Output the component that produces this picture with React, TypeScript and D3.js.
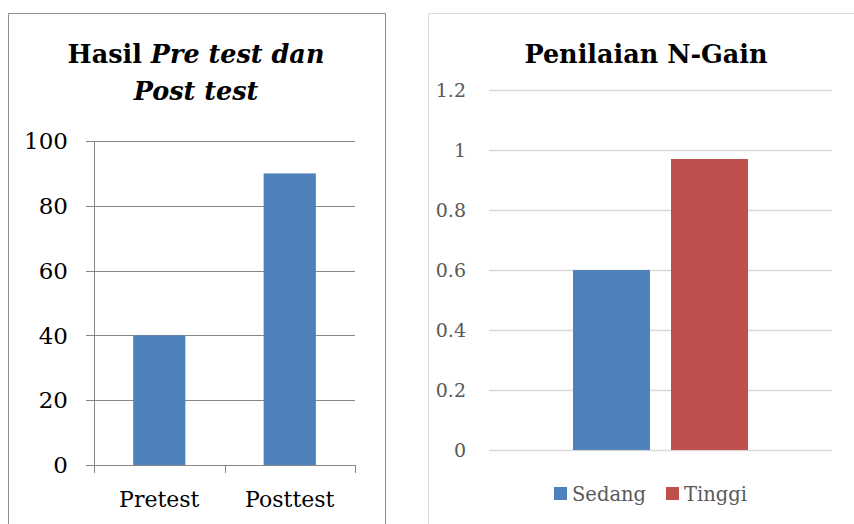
import React from "react";
import * as d3 from "d3";

const leftTitle1 = ["Hasil ", "Pre test dan"];
const leftTitle2 = "Post test";
const leftCategories = ["Pretest", "Posttest"];
const leftValues = [40, 90];
const leftTicks = [0, 20, 40, 60, 80, 100];

const rightTitle = "Penilaian N-Gain";
const rightGroups = ["N-Gain"];
const rightSeries = ["Sedang", "Tinggi"];
const rightValues = [0.6, 0.97];
const rightTicks = [0, 0.2, 0.4, 0.6, 0.8, 1, 1.2];
const rightColors = ["#4F81BD", "#C0504D"];

const FONT = "'DejaVu Serif', serif";

export default function App() {
  // Left chart
  const ly = d3.scaleLinear().domain([0, 100]).range([465, 141]);
  const lx = d3.scaleBand<string>().domain(leftCategories).range([94, 355]).paddingInner(0.6).paddingOuter(0.3);
  const lStep = lx.step();
  const lTickXs = [94, ...leftCategories.map((c) => (lx(c) as number) - lx.paddingOuter() * lStep + lStep)];

  // Right chart
  const ry = d3.scaleLinear().domain([0, 1.2]).range([450, 90]);
  const rx0 = d3.scaleBand<string>().domain(rightGroups).range([489, 832]).paddingInner(0).paddingOuter(0.48);
  const rx1 = d3.scaleBand<string>().domain(rightSeries).range([0, rx0.bandwidth()]).paddingInner(0.214).paddingOuter(0);

  return (
    <svg width={854} height={524} style={{ position: "absolute", left: 0, top: 0, background: "#fff" }} fontFamily={FONT}>
      <rect x={0} y={0} width={854} height={524} fill="#fff" />
      {/* Left chart border */}
      <path d="M8.5,530 V13.5 H385.5 V530" fill="none" stroke="#8c8c8c" strokeWidth={1} />
      {/* Left title */}
      <text x={196} y={63} textAnchor="middle" fontSize={25.5} fontWeight="bold" fill="#000">
        <tspan>{leftTitle1[0]}</tspan>
        <tspan fontStyle="italic">{leftTitle1[1]}</tspan>
      </text>
      <text x={196} y={100} textAnchor="middle" fontSize={25.5} fontWeight="bold" fontStyle="italic" fill="#000">
        {leftTitle2}
      </text>
      {/* gridlines */}
      {leftTicks.map((t) => (
        <line key={t} x1={86} x2={355} y1={Math.round(ly(t)) + 0.5} y2={Math.round(ly(t)) + 0.5} stroke="#878787" strokeWidth={1} />
      ))}
      {leftTicks.map((t) => (
        <text key={"l" + t} x={68} y={ly(t)} dy="0.36em" textAnchor="end" fontSize={23} fill="#000">
          {t}
        </text>
      ))}
      {/* bars */}
      {leftCategories.map((c, i) => (
        <rect key={c} x={lx(c)} y={ly(leftValues[i])} width={lx.bandwidth()} height={ly(0) - ly(leftValues[i])} fill="#4F81BD" />
      ))}
      {/* y axis */}
      <line x1={94.5} x2={94.5} y1={141} y2={473} stroke="#878787" />
      {lTickXs.map((x, i) => (
        <line key={"tk" + i} x1={Math.round(x) + 0.5} x2={Math.round(x) + 0.5} y1={465} y2={473} stroke="#878787" />
      ))}
      {leftCategories.map((c) => (
        <text key={"c" + c} x={(lx(c) as number) + lx.bandwidth() / 2} y={507} textAnchor="middle" fontSize={22} fill="#000">
          {c}
        </text>
      ))}

      {/* Right chart border */}
      <path d="M428.5,530 V13.5 H860" fill="none" stroke="#d9d9d9" strokeWidth={1} />
      <text x={646} y={63} textAnchor="middle" fontSize={25.5} fontWeight="bold" fill="#000">
        {rightTitle}
      </text>
      {rightTicks.map((t) => (
        <line key={"rg" + t} x1={489} x2={832} y1={Math.round(ry(t)) + 0.5} y2={Math.round(ry(t)) + 0.5} stroke="#d9d9d9" strokeWidth={1.5} />
      ))}
      {rightTicks.map((t) => (
        <text key={"rt" + t} x={466} y={ry(t)} dy="0.36em" textAnchor="end" fontSize={19} fill="#595959">
          {String(t)}
        </text>
      ))}
      {rightGroups.map((g) => (
        <g key={g} transform={`translate(${rx0(g)},0)`}>
          {rightSeries.map((s, i) => (
            <rect key={s} x={rx1(s)} y={ry(rightValues[i])} width={rx1.bandwidth()} height={ry(0) - ry(rightValues[i])} fill={rightColors[i]} />
          ))}
        </g>
      ))}
      {/* legend */}
      {rightSeries.map((s, i) => {
        const lxPos = [554, 666][i];
        return (
          <g key={"lg" + s}>
            <rect x={lxPos} y={487} width={13} height={13} fill={rightColors[i]} />
            <text x={lxPos + 18} y={501} fontSize={19.5} fill="#595959">
              {s}
            </text>
          </g>
        );
      })}
    </svg>
  );
}
